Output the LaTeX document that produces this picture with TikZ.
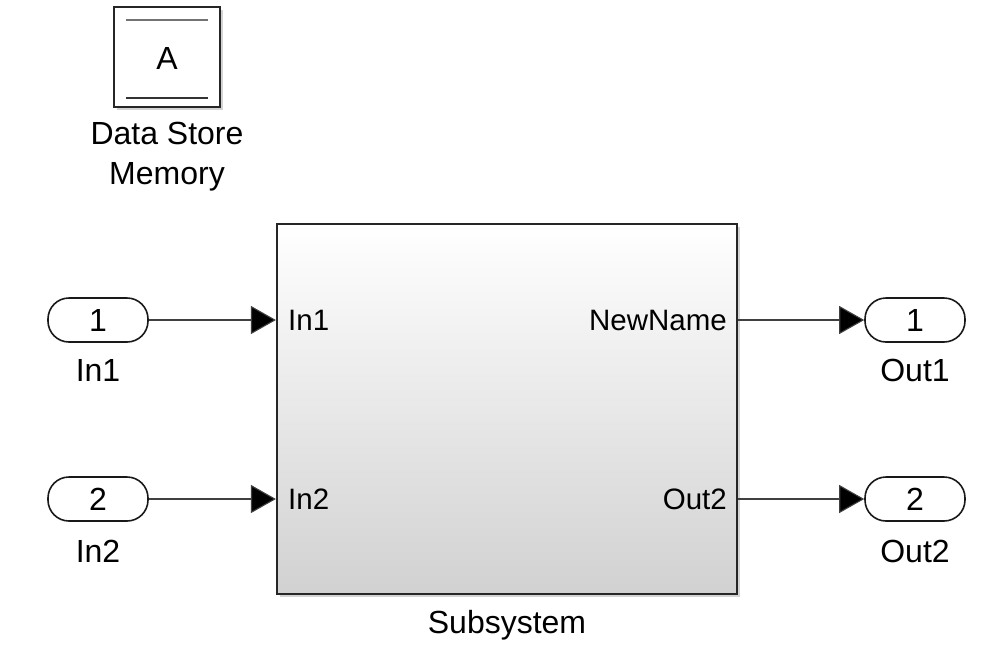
\documentclass[tikz,border=0pt]{standalone}
\usepackage{fontspec}
\setmainfont{Liberation Sans}
\usetikzlibrary{arrows.meta, shadows, positioning}

\tikzset{
  blk/.style={draw=black!85, line width=2.2pt, inner sep=0pt,
    drop shadow={opacity=0.35, shadow xshift=2.5pt, shadow yshift=-2.5pt}},
  port/.style={draw=black!90, line width=1.6pt, fill=white, rounded corners=21pt,
    minimum width=100pt, minimum height=44pt, inner sep=0pt,
    font=\fontsize{32}{38}\selectfont},
  lbl/.style={inner sep=0pt, font=\fontsize{32}{40}\selectfont},
  plbl/.style={inner sep=0pt, font=\fontsize{29.5}{36}\selectfont},
  sig/.style={draw=black!75, line width=1.1pt,
    -{Triangle[length=25pt, width=28pt, fill=black]}}
}

\begin{document}
\begin{tikzpicture}[x=1pt, y=-1pt]

\useasboundingbox (0,0) rectangle (1001,649);

% data store memory
\node[blk, fill=white, minimum width=106pt, minimum height=100pt] (dsm) at (167,57) {};
\draw[black!55, line width=1.4pt] (126,20) -- (208,20);
\draw[black!80, line width=1.4pt] (126,98) -- (208,98);
\node[lbl] (dsmtxt) at (167,58) {A};
\node[lbl, align=center] (dsmlbl) at (167,157) {Data Store\\Memory};

% subsystem
\node[blk, top color=white, bottom color=black!18, minimum width=460pt, minimum height=370pt] (sub) at (507,409) {};
\node[lbl] (sublbl) at (507,625) {Subsystem};

\node[plbl, anchor=west] (pin1) at (288,320) {In1};
\node[plbl, anchor=west] (pin2) at (288,499) {In2};
\node[plbl, anchor=east] (pout1) at (727,320) {NewName};
\node[plbl, anchor=east] (pout2) at (727,499) {Out2};

% inports
\node[port] (in1) at (98,320) {1};
\node[lbl] (in1lbl) at (98,370) {In1};
\node[port] (in2) at (98,499) {2};
\node[lbl] (in2lbl) at (98,551) {In2};

% outports
\node[port] (out1) at (915,320) {1};
\node[lbl] (out1lbl) at (915,370) {Out1};
\node[port] (out2) at (915,499) {2};
\node[lbl] (out2lbl) at (915,551) {Out2};

% signals
\draw[sig] (in1) -- (in1 -| sub.west);
\draw[sig] (in2) -- (in2 -| sub.west);
\draw[sig] (out1 -| sub.east) -- (out1);
\draw[sig] (out2 -| sub.east) -- (out2);

\end{tikzpicture}
\end{document}
